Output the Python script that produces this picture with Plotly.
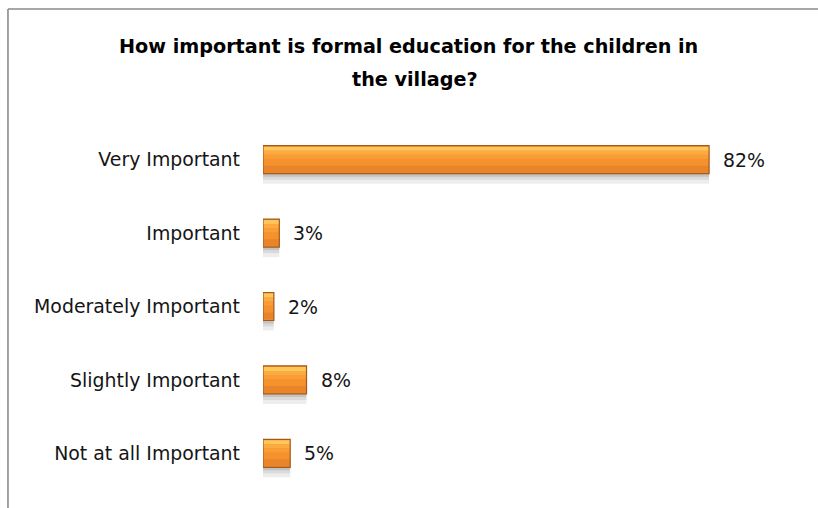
import plotly.graph_objects as go

# Survey responses
categories = ["Very Important", "Important", "Moderately Important",
              "Slightly Important", "Not at all Important"]
shares = [82, 3, 2, 8, 5]
share_labels = ["82%", "3%", "2%", "8%", "5%"]
title_lines = ["How important is formal education for the children in",
               "the village?"]

LABEL_FONT = dict(family="DejaVu Sans", size=18.9, color="#151515")
TITLE_FONT = dict(family="DejaVu Sans", size=19.2, color="#000000")

HALF = 0.191          # half bar thickness, in category units
PX = 0.01364          # one screen pixel, in category units

fig = go.Figure()


def band(offset, width, color, line_color=None, line_width=0):
    fig.add_trace(go.Bar(
        y=categories, x=shares, orientation="h",
        offset=offset, width=width,
        marker=dict(color=color,
                    line=dict(color=line_color or "rgba(0,0,0,0)",
                              width=line_width)),
        hoverinfo="skip", showlegend=False,
    ))


# soft drop shadow beneath each bar
band(HALF, 10 * PX, "rgba(0,0,0,0.07)")
band(HALF, 6 * PX, "rgba(0,0,0,0.08)")
band(HALF, 3 * PX, "rgba(0,0,0,0.10)")

# glossy orange body built from horizontal bands, top to bottom
band(-HALF, 2 * HALF, "#F5922E")
band(-HALF + 1 * PX, 4 * PX, "#FFC65A")
band(-HALF + 5 * PX, 4 * PX, "#FCAB40")
band(-HALF + 9 * PX, 4 * PX, "#F99E37")
band(-HALF + 20 * PX, 7 * PX, "#E8852A")
# outline
band(-HALF, 2 * HALF, "rgba(0,0,0,0)", line_color="#A4591C", line_width=1.2)

# value labels to the right of each bar
for cat, val, txt in zip(categories, shares, share_labels):
    fig.add_annotation(x=val, y=cat, text=txt, showarrow=False,
                       xanchor="left", yanchor="middle", xshift=12,
                       font=LABEL_FONT)

# two-line heading
for txt, ypos, dx in zip(title_lines, [1.2098, 1.1172], [0, 6]):
    fig.add_annotation(x=0.268, y=ypos, xref="paper", yref="paper",
                       text=f"<b>{txt}</b>", showarrow=False, xshift=dx,
                       xanchor="center", yanchor="middle", font=TITLE_FONT)

# chart frame (top and left edges)
fig.add_shape(type="line", xref="paper", yref="paper",
              x0=-0.4688, x1=1.03, y0=1.3106, y1=1.3106,
              line=dict(color="#8A8A8A", width=1.6))
fig.add_shape(type="line", xref="paper", yref="paper",
              x0=-0.4688, x1=-0.4688, y0=1.3106, y1=-0.06,
              line=dict(color="#8A8A8A", width=1.6))

fig.update_layout(
    width=818, height=508,
    margin=dict(l=263, r=11, t=123, b=18),
    paper_bgcolor="white", plot_bgcolor="white",
    barmode="overlay",
    xaxis=dict(range=[0, 100], visible=False, fixedrange=True),
    yaxis=dict(type="category", categoryorder="array", categoryarray=categories,
               autorange="reversed", showgrid=False, zeroline=False,
               showline=False, ticks="", ticklabelstandoff=22,
               tickfont=LABEL_FONT, fixedrange=True),
    showlegend=False,
)

fig.write_html("out.html", config={"displayModeBar": False})
